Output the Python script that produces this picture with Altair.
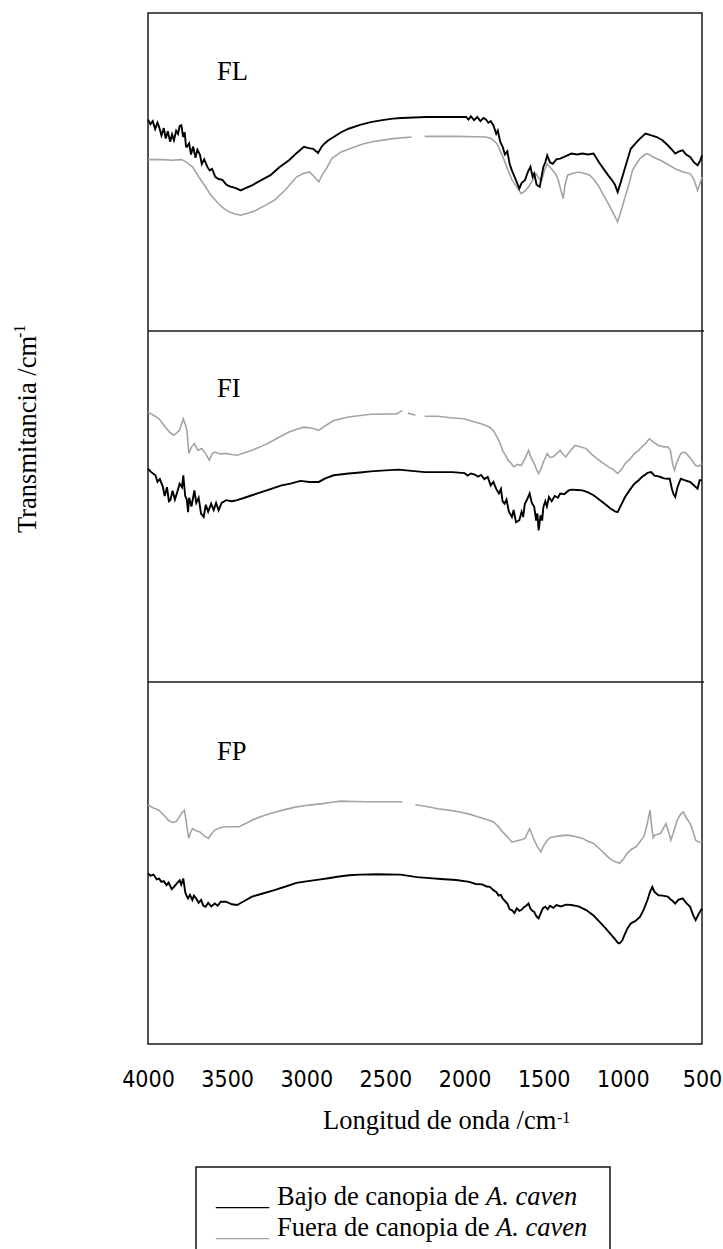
import altair as alt
import pandas as pd

# ---------------- data ----------------
WN_TICKS = [4000, 3500, 3000, 2500, 2000, 1500, 1000, 500]
PANELS = ["FL", "FI", "FP"]
SERIES = ["Bajo de canopia de A. caven", "Fuera de canopia de A. caven"]

# FL - bajo (black)
FL_BAJO_WN = [4000, 3985, 3970, 3955, 3940, 3930, 3915, 3900, 3888, 3875, 3860, 3848, 3836, 3822, 3810, 3800,
              3789, 3778, 3768, 3760, 3754, 3740, 3728, 3715, 3700, 3688, 3672, 3660, 3645, 3625, 3610, 3595,
              3575, 3554, 3530, 3505, 3484, 3450, 3414, 3380, 3343, 3290, 3226, 3170, 3109, 3060, 3015, 2985,
              2956, 2926, 2905, 2886, 2860, 2827, 2780, 2733, 2660, 2593, 2520, 2452, 2400, 2241, 2053, 1990,
              1975, 1960, 1940, 1920, 1900, 1880, 1865, 1850, 1835, 1818, 1800, 1790, 1775, 1760, 1745, 1730,
              1715, 1701, 1680, 1654, 1640, 1619, 1600, 1584, 1570, 1560, 1545, 1525, 1512, 1502, 1490, 1478,
              1460, 1443, 1420, 1396, 1360, 1326, 1290, 1255, 1220, 1185, 1150, 1115, 1090, 1068, 1050, 1033,
              1015, 997, 970, 950, 920, 892, 857, 820, 786, 750, 716, 690, 669, 645, 622, 600, 575, 550, 528,
              512, 500]
FL_BAJO_T = [66.5, 65.0, 66.0, 63.5, 65.5, 64.2, 61.5, 63.8, 60.5, 62.8, 59.5, 61.8, 60.0, 63.0, 62.0, 64.5,
             64.7, 61.0, 62.5, 58.0, 57.9, 59.0, 55.5, 58.0, 54.5, 57.0, 55.5, 52.5, 54.0, 51.6, 50.5, 51.0,
             48.5, 47.8, 47.5, 46.0, 45.5, 45.0, 44.2, 45.0, 45.8, 47.3, 49.0, 51.5, 53.7, 56.0, 57.9, 57.5,
             57.3, 56.0, 57.8, 58.9, 60.0, 61.0, 62.5, 63.6, 64.8, 65.7, 66.3, 66.8, 67.0, 67.3, 67.3, 67.3,
             66.5, 67.5, 66.3, 67.3, 66.0, 67.0, 66.5, 65.5, 66.0, 64.7, 62.0, 63.0, 59.5, 58.0, 55.5, 56.5,
             52.5, 50.5, 48.0, 44.8, 46.5, 47.4, 50.0, 51.6, 48.5, 49.5, 46.0, 45.3, 49.0, 51.6, 53.0, 55.2,
             53.0, 52.6, 54.0, 54.2, 55.0, 55.8, 55.5, 55.8, 55.5, 55.8, 53.0, 50.5, 48.8, 47.4, 46.0, 43.7,
             46.5, 49.5, 54.0, 57.3, 59.0, 60.5, 62.1, 61.5, 61.0, 60.0, 58.4, 57.0, 55.8, 56.5, 56.8, 55.5,
             54.7, 53.0, 52.1, 53.5, 55.2]

# FL - fuera (grey); None marks a break in the trace
FL_FUERA_WN = [4000, 3900, 3850, 3789, 3760, 3719, 3680, 3636, 3600, 3554, 3520, 3484, 3450, 3414, 3370, 3320,
               3260, 3202, 3130, 3062, 3020, 2980, 2950, 2921, 2900, 2874, 2839, 2780, 2700, 2639, 2550, 2452,
               2334, None, 2252, 2053, 1865, 1830, 1795, 1760, 1725, 1700, 1678, 1642, 1620, 1596, 1570, 1549,
               1530, 1513, 1495, 1478, 1460, 1443, 1420, 1408, 1390, 1377, 1365, 1349, 1320, 1279, 1240, 1209,
               1180, 1150, 1120, 1091, 1060, 1033, 1010, 986, 960, 939, 915, 892, 860, 845, 800, 763, 720, 669,
               620, 575, 550, 528, 515, 500]
FL_FUERA_T = [53.9, 53.9, 53.7, 53.9, 53.2, 51.6, 48.5, 45.3, 42.5, 40.0, 38.5, 37.4, 36.8, 36.4, 37.0, 37.9,
              39.5, 41.1, 44.5, 48.4, 49.5, 50.0, 48.5, 46.9, 49.0, 51.0, 54.2, 56.3, 57.8, 58.9, 59.8, 60.5,
              61.0, None, 61.2, 61.2, 61.0, 60.5, 58.9, 55.0, 50.5, 47.5, 45.8, 43.2, 44.0, 45.3, 47.5, 49.5,
              48.0, 47.4, 50.5, 52.6, 51.5, 50.5, 49.0, 47.4, 44.0, 41.6, 46.0, 49.0, 49.5, 50.0, 49.5, 49.0,
              47.5, 45.3, 42.5, 40.0, 37.0, 34.3, 38.0, 42.1, 46.5, 50.5, 52.5, 54.2, 55.5, 55.8, 54.5, 53.7,
              52.5, 51.0, 50.0, 49.5, 47.5, 44.2, 46.0, 48.4]

# FI - bajo (black)
FI_BAJO_WN = [4000, 3985, 3970, 3953, 3940, 3925, 3906, 3895, 3880, 3868, 3859, 3845, 3830, 3812, 3800, 3785,
              3777, 3765, 3755, 3747, 3740, 3725, 3707, 3695, 3680, 3665, 3648, 3635, 3620, 3601, 3585, 3570,
              3554, 3535, 3507, 3470, 3437, 3390, 3343, 3250, 3156, 3100, 3038, 2980, 2921, 2880, 2827, 2733,
              2660, 2593, 2500, 2417, 2252, 2076, 2000, 1980, 1960, 1936, 1915, 1895, 1875, 1854, 1835, 1818,
              1800, 1783, 1770, 1760, 1748, 1735, 1720, 1701, 1690, 1675, 1654, 1640, 1630, 1619, 1605, 1589,
              1575, 1560, 1548, 1540, 1532, 1520, 1510, 1502, 1490, 1480, 1467, 1450, 1430, 1410, 1396, 1370,
              1345, 1326, 1290, 1255, 1220, 1185, 1150, 1115, 1080, 1050, 1033, 1010, 986, 955, 927, 900, 880,
              860, 845, 821, 800, 775, 763, 740, 716, 704, 690, 680, 669, 655, 634, 610, 590, 575, 550, 528,
              515, 500]
FI_BAJO_T = [60.8, 60.0, 59.5, 58.9, 57.0, 57.8, 55.6, 53.0, 55.5, 51.5, 51.8, 54.5, 52.0, 54.6, 56.5, 55.5,
             58.9, 53.0, 52.0, 48.4, 52.5, 50.0, 54.6, 51.0, 52.5, 48.0, 47.0, 50.5, 48.5, 50.8, 49.0, 51.0,
             48.9, 51.0, 51.8, 51.5, 51.8, 52.5, 53.2, 54.6, 56.0, 56.5, 57.3, 57.0, 57.0, 58.0, 58.9, 59.4,
             59.7, 60.0, 60.3, 60.5, 59.8, 59.8, 59.5, 58.8, 59.4, 59.1, 58.5, 59.0, 57.8, 58.4, 56.0, 57.0,
             55.0, 53.7, 55.0, 51.5, 50.8, 52.0, 48.5, 47.0, 49.0, 45.5, 46.1, 48.5, 47.0, 50.8, 52.0, 53.7,
             51.0, 49.9, 46.0, 48.0, 43.2, 47.5, 46.0, 49.9, 51.5, 50.0, 52.7, 51.5, 53.0, 52.5, 53.7, 53.5,
             54.5, 54.8, 54.7, 54.6, 54.0, 53.2, 52.0, 50.8, 49.5, 48.6, 48.4, 50.5, 52.7, 54.8, 56.5, 57.5, 58.4,
             59.0, 59.6, 59.8, 58.8, 58.6, 58.4, 58.0, 57.9, 57.9, 55.0, 53.5, 52.7, 55.5, 57.9, 57.5, 57.2, 57.0,
             56.0, 55.1, 57.5, 57.5]

# FI - fuera (grey)
FI_FUERA_WN = [4000, 3965, 3930, 3905, 3883, 3860, 3836, 3801, 3777, 3765, 3754, 3742, 3725, 3707, 3685, 3660,
               3635, 3613, 3595, 3578, 3545, 3507, 3470, 3437, 3390, 3343, 3280, 3226, 3170, 3109, 3060, 3015,
               2960, 2921, 2880, 2827, 2733, 2593, 2428, 2393, None, 2358, 2311, None, 2252, 2170, 2090, 2006,
               1936, 1890, 1842, 1815, 1795, 1775, 1760, 1740, 1725, 1710, 1689, 1665, 1642, 1620, 1596, 1580,
               1560, 1545, 1532, 1515, 1502, 1478, 1460, 1443, 1420, 1396, 1380, 1361, 1330, 1302, 1270, 1232,
               1200, 1162, 1130, 1091, 1060, 1033, 1010, 986, 955, 927, 900, 880, 855, 833, 810, 775, 740, 716,
               700, 685, 674, 660, 634, 615, 599, 570, 540, 520, 500]
FI_FUERA_T = [76.9, 76.0, 75.0, 73.5, 72.2, 71.0, 70.3, 71.7, 75.0, 73.5, 71.7, 65.1, 67.0, 67.9, 66.0, 66.5,
              65.0, 63.2, 65.0, 65.5, 65.0, 65.1, 64.8, 64.6, 65.3, 66.0, 67.2, 68.4, 69.8, 71.2, 72.0, 72.6,
              72.3, 71.7, 73.0, 74.5, 75.5, 76.3, 76.4, 77.4, None, 76.6, 76.0, None, 75.7, 75.7, 75.3, 75.0,
              74.1, 73.5, 72.6, 71.5, 69.8, 68.0, 66.0, 64.5, 63.2, 62.5, 61.3, 62.0, 61.7, 63.5, 66.0, 64.0,
              62.2, 60.5, 59.4, 61.0, 62.7, 65.1, 64.0, 64.1, 65.0, 66.0, 65.0, 64.1, 66.0, 67.4, 67.0, 66.5,
              65.0, 63.6, 62.5, 61.3, 60.5, 59.4, 60.5, 62.2, 63.5, 65.1, 66.0, 67.0, 68.0, 69.3, 68.5, 67.4,
              67.0, 67.0, 66.0, 62.0, 60.3, 62.5, 65.1, 65.5, 65.1, 63.5, 61.7, 61.5, 62.2]

# FP - bajo (black)
FP_BAJO_WN = [4000, 3985, 3965, 3945, 3930, 3915, 3900, 3883, 3870, 3850, 3836, 3815, 3800, 3790, 3777, 3765,
              3757, 3747, 3735, 3720, 3710, 3695, 3680, 3665, 3650, 3636, 3620, 3600, 3578, 3560, 3540, 3507,
              3470, 3437, 3400, 3343, 3280, 3202, 3130, 3062, 2990, 2921, 2860, 2804, 2730, 2663, 2550, 2405,
              2300, 2241, 2150, 2053, 1970, 1930, 1889, 1860, 1840, 1818, 1800, 1785, 1770, 1760, 1745, 1730,
              1715, 1701, 1685, 1670, 1654, 1642, 1625, 1610, 1596, 1585, 1572, 1560, 1545, 1532, 1520, 1505,
              1490, 1475, 1460, 1440, 1420, 1390, 1360, 1326, 1280, 1232, 1185, 1138, 1110, 1080, 1050, 1033,
              1021, 1005, 986, 970, 950, 920, 892, 870, 845, 830, 814, 800, 775, 750, 716, 700, 685, 669, 650,
              622, 600, 575, 555, 540, 520, 500]
FP_BAJO_T = [47.1, 46.5, 46.8, 45.5, 45.7, 44.8, 45.0, 43.9, 44.6, 42.8, 43.4, 44.5, 45.2, 44.0, 45.7, 42.0,
             41.0, 40.2, 41.2, 39.8, 41.0, 40.2, 39.0, 39.8, 38.2, 37.9, 39.0, 38.0, 38.8, 38.2, 39.3, 39.3,
             38.6, 38.4, 39.3, 40.7, 41.5, 42.5, 43.5, 44.5, 45.0, 45.4, 45.8, 46.2, 46.6, 46.8, 46.9, 46.8,
             46.1, 45.9, 45.6, 45.3, 44.8, 44.2, 44.1, 43.5, 43.4, 42.5, 42.0, 41.0, 41.2, 40.2, 39.5, 38.8,
             37.2, 37.0, 36.2, 37.5, 36.8, 37.0, 37.8, 38.2, 38.8, 37.5, 36.8, 36.5, 35.2, 34.7, 36.0, 37.5,
             37.9, 37.2, 38.2, 37.6, 38.4, 38.0, 38.5, 38.4, 38.0, 37.0, 35.5, 33.3, 32.0, 30.5, 29.0, 28.0,
             27.8, 28.5, 30.5, 32.0, 33.3, 34.0, 35.1, 37.0, 39.7, 41.8, 43.4, 42.0, 41.1, 41.0, 40.7, 40.0,
             39.5, 38.8, 39.8, 40.2, 39.0, 37.9, 35.5, 34.2, 36.0, 37.4]

# FP - fuera (grey)
FP_FUERA_WN = [4000, 3965, 3930, 3900, 3871, 3845, 3824, 3800, 3789, 3770, 3760, 3754, 3742, 3730, 3719, 3700,
               3672, 3645, 3618, 3600, 3578, 3540, 3507, 3460, 3425, 3380, 3343, 3290, 3226, 3150, 3062, 2980,
               2897, 2840, 2780, 2700, 2616, 2500, 2393, None, 2311, 2240, 2170, 2100, 2030, 1970, 1912, 1860,
               1818, 1790, 1760, 1730, 1701, 1680, 1654, 1635, 1619, 1600, 1589, 1575, 1560, 1540, 1518, 1500,
               1478, 1460, 1443, 1400, 1349, 1300, 1255, 1220, 1185, 1150, 1115, 1090, 1068, 1040, 1021, 997,
               974, 945, 915, 890, 868, 850, 838, 828, 818, 808, 798, 775, 763, 745, 728, 710, 697, 680, 657,
               635, 617, 600, 575, 555, 540, 520, 500]
FP_FUERA_T = [66.0, 65.2, 64.6, 63.2, 61.8, 61.2, 61.4, 62.8, 63.7, 64.6, 62.0, 60.0, 56.8, 58.5, 59.5, 59.0,
              58.6, 57.5, 56.8, 58.0, 59.1, 59.8, 60.0, 60.0, 60.0, 61.0, 61.8, 62.8, 63.7, 64.6, 65.5, 66.0,
              66.4, 66.8, 67.1, 67.0, 66.9, 66.9, 66.9, None, 66.1, 65.6, 65.0, 64.6, 64.1, 63.5, 62.7, 62.0,
              61.4, 60.2, 58.6, 57.3, 55.8, 56.0, 56.3, 56.5, 56.8, 58.5, 59.5, 58.0, 56.3, 54.5, 53.1, 54.8,
              56.3, 57.0, 57.2, 57.5, 57.7, 57.3, 56.8, 56.0, 55.4, 54.0, 52.6, 51.5, 50.8, 50.2, 49.9, 51.0,
              52.6, 53.8, 54.5, 56.0, 57.2, 60.0, 62.5, 64.6, 60.0, 57.0, 57.7, 58.0, 58.1, 59.5, 60.9, 58.5,
              56.3, 58.5, 61.8, 63.5, 64.1, 62.5, 60.9, 58.5, 56.3, 55.8, 55.8]

TRACES = {
    ("FL", SERIES[0]): (FL_BAJO_WN, FL_BAJO_T),
    ("FL", SERIES[1]): (FL_FUERA_WN, FL_FUERA_T),
    ("FI", SERIES[0]): (FI_BAJO_WN, FI_BAJO_T),
    ("FI", SERIES[1]): (FI_FUERA_WN, FI_FUERA_T),
    ("FP", SERIES[0]): (FP_BAJO_WN, FP_BAJO_T),
    ("FP", SERIES[1]): (FP_FUERA_WN, FP_FUERA_T),
}

# ---------------- layout / style ----------------
W, H = 554, 1031
PANEL_RANGE = {"FL": [318, 0], "FI": [669, 318], "FP": [1031, 669]}
PANEL_LABEL_Y = {"FL": 67, "FI": 384, "FP": 747}
DIVIDERS = [318, 669]
COLORS = {SERIES[0]: "#000000", SERIES[1]: "#a4a4a4"}
WIDTHS = {SERIES[0]: 1.9, SERIES[1]: 1.6}
SERIF = "Liberation Serif, Times New Roman, serif"
NARROW = "Liberation Sans Narrow, Arial Narrow, DejaVu Sans Condensed, sans-serif"
FS = 26.5


def trace_df(panel, series):
    wns, ts = TRACES[(panel, series)]
    rows, seg = [], 0
    for w, t in zip(wns, ts):
        if t is None:
            seg += 1
            continue
        rows.append({"wn": w, "t": t, "seg": seg, "series": series})
    return pd.DataFrame(rows)


x_enc = alt.X(
    "wn:Q",
    scale=alt.Scale(domain=[500, 4000], reverse=True, nice=False, zero=False),
    axis=alt.Axis(values=WN_TICKS, format="d", title=None, ticks=False, tickSize=0, domain=False,
                  grid=False, labelFont=NARROW, labelFontSize=23, labelColor="#000",
                  labelPadding=42, labelBaseline="alphabetic", labelFlush=False, labelOverlap=False),
)

layers = []
for p in PANELS:
    for s in [SERIES[1], SERIES[0]]:
        layers.append(
            alt.Chart(trace_df(p, s)).mark_line(strokeWidth=WIDTHS[s], color=COLORS[s], strokeJoin="miter").encode(
                x=x_enc,
                y=alt.Y("t:Q", scale=alt.Scale(domain=[0, 100], range=PANEL_RANGE[p], nice=False, zero=False),
                        axis=None),
                detail="seg:N",
            )
        )
    layers.append(
        alt.Chart(pd.DataFrame({"label": [p]})).mark_text(
            font=SERIF, fontSize=FS, align="left", baseline="alphabetic", color="#000"
        ).encode(text="label:N", x=alt.value(69), y=alt.value(PANEL_LABEL_Y[p]))
    )

for d in DIVIDERS:
    layers.append(
        alt.Chart(pd.DataFrame({"k": [0]})).mark_rule(color="#1a1a1a", strokeWidth=1.5).encode(
            x=alt.value(0), x2=alt.value(W + 2), y=alt.value(d)
        )
    )

# axis titles
Y_TITLE = ["Transmitancia /cm", "-1"]
X_TITLE = ["Longitud de onda /cm", "-1"]


def txt(text, x, y, size=FS, angle=0, italic=False, color="#000"):
    kw = dict(font=SERIF, fontSize=size, align="left", baseline="alphabetic", color=color)
    if angle:
        kw["angle"] = angle
    if italic:
        kw["fontStyle"] = "italic"
    return alt.Chart(pd.DataFrame({"s": [text]})).mark_text(**kw).encode(
        text="s:N", x=alt.value(x), y=alt.value(y)
    )


layers.append(txt(Y_TITLE[0], -112, 520, angle=270))
layers.append(txt(Y_TITLE[1], -123, 325, size=16, angle=270))
layers.append(txt(X_TITLE[0], 175, 1116))
layers.append(txt(X_TITLE[1], 409, 1110, size=16))

# legend box
layers.append(
    alt.Chart(pd.DataFrame({"k": [0]})).mark_rect(filled=False, stroke="#111", strokeWidth=1.5).encode(
        x=alt.value(48), x2=alt.value(462), y=alt.value(1154), y2=alt.value(1260)
    )
)
LEG_ROWS = [("Bajo de canopia de ", "A. caven", SERIES[0], 1192, 338),
            ("Fuera de canopia de ", "A. caven", SERIES[1], 1223, 348)]
for plain, ital, s, yy, xi in LEG_ROWS:
    layers.append(txt("____", 68, yy, color=COLORS[s]))
    layers.append(txt(plain, 129, yy))
    layers.append(txt(ital, xi, yy, italic=True))

chart = (
    alt.layer(*layers)
    .resolve_scale(y="independent")
    .properties(
        width=W,
        height=H,
        padding={"left": 148, "top": 13, "right": 21, "bottom": 205},
        autosize=alt.AutoSizeParams(type="none"),
        background="white",
    )
    .configure_view(stroke="#1a1a1a", strokeWidth=1.5)
)

chart.save("out.html", embed_options={"renderer": "svg", "actions": False})
